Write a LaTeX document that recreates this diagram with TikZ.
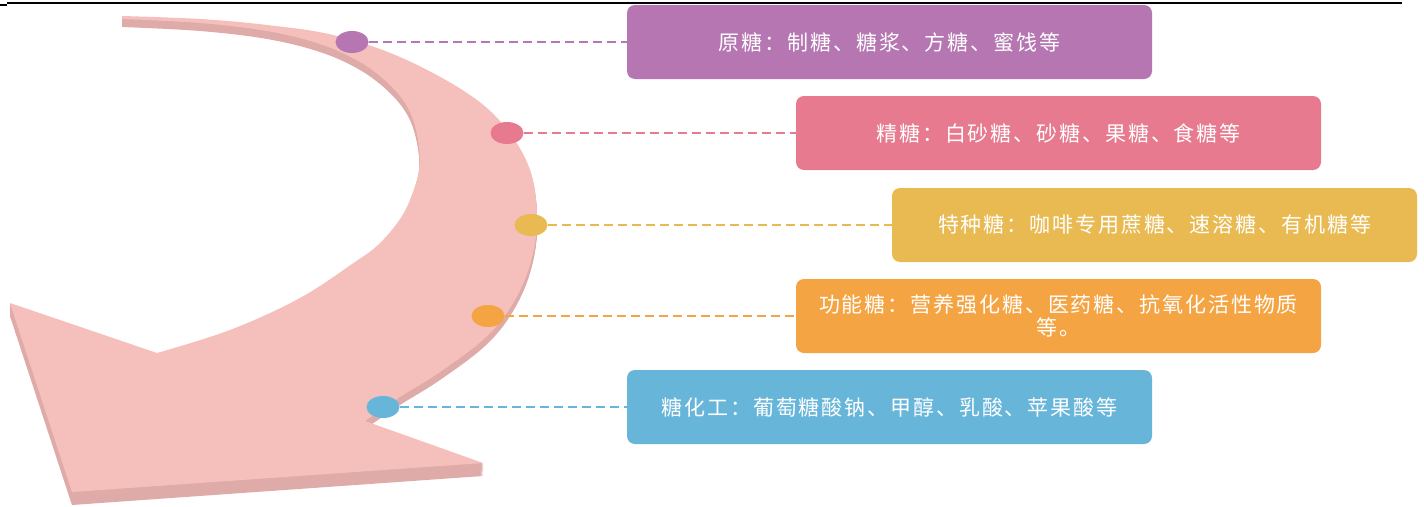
\documentclass[tikz,border=0pt]{standalone}
\usepackage{fontspec}
\newfontfamily\zhfont[LetterSpace=9]{Noto Sans CJK SC}
\usetikzlibrary{shapes.geometric}
\definecolor{bandc}{HTML}{F5BFBC}
\definecolor{shadec}{HTML}{DFABA8}
\definecolor{cpurple}{HTML}{B576B1}
\definecolor{cpink}{HTML}{E77A8E}
\definecolor{cyellow}{HTML}{E9BA52}
\definecolor{corange}{HTML}{F5A443}
\definecolor{cblue}{HTML}{67B6DA}
\newcommand\ArrowBody{plot[smooth,tension=0.6] coordinates {(122,16) (200,19) (267,25) (333,35) (400,57) (467,93) (505,127) (530,170) (537,220) (530,265) (512,305) (485,338) (440,372) (400,397) (365,421)} -- (483,463) -- (72,492) -- (10,303) -- plot[smooth,tension=0.6] coordinates {(157,353) (230,330) (300,298) (355,262) (378,245) (398,222) (410,200) (419,170) (418,140) (409,110) (390,85) (360,62) (320,44) (267,31) (200,23) (122,19)} -- cycle}
\newcommand\ArrowHead{(365,421) -- (483,463) -- (72,492) -- (10,303) -- (157,353) -- cycle}
\tikzset{
  box/.style={rounded corners=8pt, minimum width=525pt, minimum height=74pt, inner sep=0pt,
    text=white, font=\zhfont\fontsize{21pt}{23pt}\selectfont, align=center},
  dot/.style={ellipse, minimum width=33pt, minimum height=22pt, inner sep=0pt},
  link/.style={dash pattern=on 9pt off 5pt, line width=2pt}
}
\begin{document}
\begin{tikzpicture}[x=1pt,y=-1pt]
\useasboundingbox (0,0) rectangle (1424,506);
\fill[white] (0,0) rectangle (1424,506);
% top rule
\draw[line width=1.8pt] (7,3) -- (1402,3);
\draw[line width=1.5pt] (0,5) -- (7,5);
% curved arrow with its extruded side
\foreach \s in {1,...,13} {\fill[shadec, yshift={-\s pt}] \ArrowHead;}
\foreach \s in {1,...,8} {\fill[shadec, yshift={-\s pt}] \ArrowBody;}
\fill[bandc] \ArrowBody;
% dots
\node[dot, fill=cpurple] (d1) at (352,42) {};
\node[dot, fill=cpink] (d2) at (507,133) {};
\node[dot, fill=cyellow] (d3) at (531,225) {};
\node[dot, fill=corange] (d4) at (488,316) {};
\node[dot, fill=cblue] (d5) at (383,407) {};
% boxes
\node[box, fill=cpurple] (b1) at (889.5,42) {原糖：制糖、糖浆、方糖、蜜饯等};
\node[box, fill=cpink] (b2) at (1058.5,133) {精糖：白砂糖、砂糖、果糖、食糖等};
\node[box, fill=cyellow] (b3) at (1154.5,225) {特种糖：咖啡专用蔗糖、速溶糖、有机糖等};
\node[box, fill=corange] (b4) at (1058.5,316) {功能糖：营养强化糖、医药糖、抗氧化活性物质\\等。};
\node[box, fill=cblue] (b5) at (889.5,407) {糖化工：葡萄糖酸钠、甲醇、乳酸、苹果酸等};
% connectors
\draw[link, cpurple] (d1.east) -- (b1.west);
\draw[link, cpink] (d2.east) -- (b2.west);
\draw[link, cyellow] (d3.east) -- (b3.west);
\draw[link, corange] (d4.east) -- (b4.west);
\draw[link, cblue] (d5.east) -- (b5.west);
\end{tikzpicture}
\end{document}
